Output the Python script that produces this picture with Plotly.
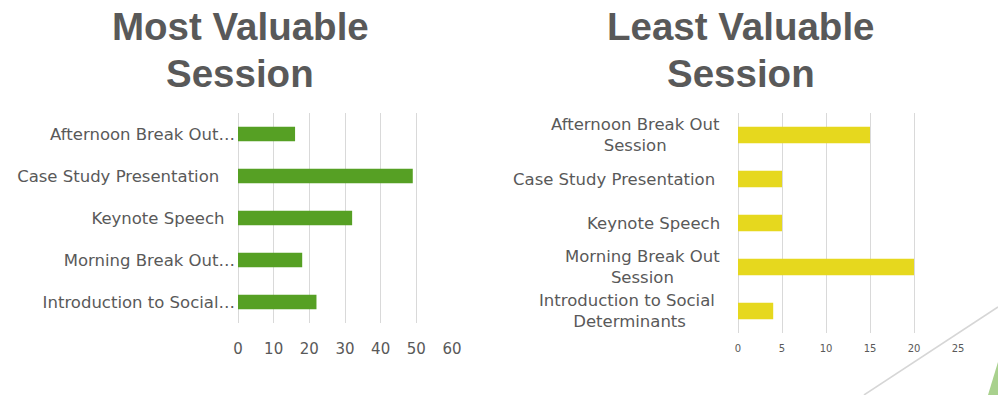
import plotly.graph_objects as go

# Session names (top to bottom) and survey counts
sessions = [
    "Afternoon Break Out Session",
    "Case Study Presentation",
    "Keynote Speech",
    "Morning Break Out Session",
    "Introduction to Social Determinants",
]
most_valuable = [16, 49, 32, 18, 22]
least_valuable = [15, 5, 5, 20, 4]

# Category labels as shown on each chart
most_labels = [
    "Afternoon Break Out…",
    "Case Study Presentation\u00a0\u00a0\u00a0",
    "Keynote Speech\u00a0\u00a0",
    "Morning Break Out…",
    "Introduction to Social…",
]
least_labels = [
    "Afternoon Break Out<br>Session",
    "Case Study Presentation\u00a0",
    "Keynote Speech",
    "Morning Break Out<br>Session",
    "Introduction to Social\u00a0<br>Determinants",
]
most_ticks = [0, 10, 20, 30, 40, 50, 60]
least_ticks = [0, 5, 10, 15, 20, 25]
titles = [("Most Valuable", "Session"), ("Least Valuable", "Session")]

W, H = 998, 395
GREEN = "#56a024"
YELLOW = "#e6d81e"
TEXT = "#595959"
GRID = "#d9d9d9"
LABEL_FONT = "DejaVu Sans"
TITLE_FONT = "Liberation Sans"


def px_x(x):
    return x / W


def px_y(y):
    return 1 - y / H


fig = go.Figure()

fig.add_trace(go.Bar(
    x=most_valuable, y=sessions, orientation="h",
    marker=dict(color=GREEN, line=dict(width=0)),
    width=0.34, xaxis="x", yaxis="y", showlegend=False,
))
fig.add_trace(go.Bar(
    x=least_valuable, y=sessions, orientation="h",
    marker=dict(color=YELLOW, line=dict(width=0)),
    width=0.37, xaxis="x2", yaxis="y2", showlegend=False,
))

value_axis = dict(
    showgrid=True, gridcolor=GRID, gridwidth=1,
    zeroline=True, zerolinecolor=GRID, zerolinewidth=1,
    showline=False, ticks="", automargin=False, fixedrange=True,
)
category_axis = dict(
    categoryorder="array", categoryarray=sessions, autorange="reversed",
    showgrid=False, zeroline=False, showline=False, ticks="",
    automargin=False, fixedrange=True,
)

fig.update_layout(
    template="none",
    width=W, height=H,
    margin=dict(l=0, r=0, t=0, b=0, pad=0, autoexpand=False),
    paper_bgcolor="white", plot_bgcolor="white",
    font=dict(family=LABEL_FONT, color=TEXT),
    xaxis=dict(
        value_axis, domain=[px_x(238), px_x(452)], range=[0, 60],
        tickvals=most_ticks, tickfont=dict(size=15, color=TEXT),
        ticklabelstandoff=15, anchor="y",
    ),
    yaxis=dict(
        category_axis, domain=[px_y(323), px_y(113)],
        tickvals=sessions, ticktext=most_labels, ticklabelstandoff=2,
        tickfont=dict(size=16.5, color=TEXT), anchor="x",
    ),
    xaxis2=dict(
        value_axis, domain=[px_x(738), px_x(958)], range=[0, 25],
        tickvals=least_ticks, tickfont=dict(size=10, color=TEXT),
        ticklabelstandoff=8, anchor="y2",
    ),
    yaxis2=dict(
        category_axis, domain=[px_y(333), px_y(113)],
        showticklabels=False, anchor="x2",
    ),
)

# Centred, wrapped category labels for the right-hand chart
for name, label in zip(sessions, least_labels):
    fig.add_annotation(
        xref="paper", yref="y2", x=px_x(722), y=name,
        text=label, showarrow=False, xanchor="right", yanchor="middle",
        align="center", font=dict(family=LABEL_FONT, size=16.5, color=TEXT),
    )

# Two-line chart titles
for (line1, line2), cx in zip(titles, (240, 741)):
    for text, cy in ((line1, 26), (line2, 73)):
        fig.add_annotation(
            xref="paper", yref="paper", x=px_x(cx), y=px_y(cy),
            text=f"<b>{text}</b>", showarrow=False, xanchor="center",
            yanchor="middle", align="center",
            font=dict(family=TITLE_FONT, size=38.5, color=TEXT),
        )

# Decorative slide accents in the lower-right corner
fig.add_shape(
    type="line", xref="paper", yref="paper",
    x0=px_x(864), y0=px_y(395), x1=px_x(998), y1=px_y(307),
    line=dict(color="#d6d6d6", width=1.5), layer="above",
)
fig.add_shape(
    type="path", xref="paper", yref="paper",
    path=f"M {px_x(988)} {px_y(395)} L 1 {px_y(395)} L 1 {px_y(362)} Z",
    fillcolor="#a9d18e", line=dict(width=0), layer="above",
)

fig.write_html("out.html")
